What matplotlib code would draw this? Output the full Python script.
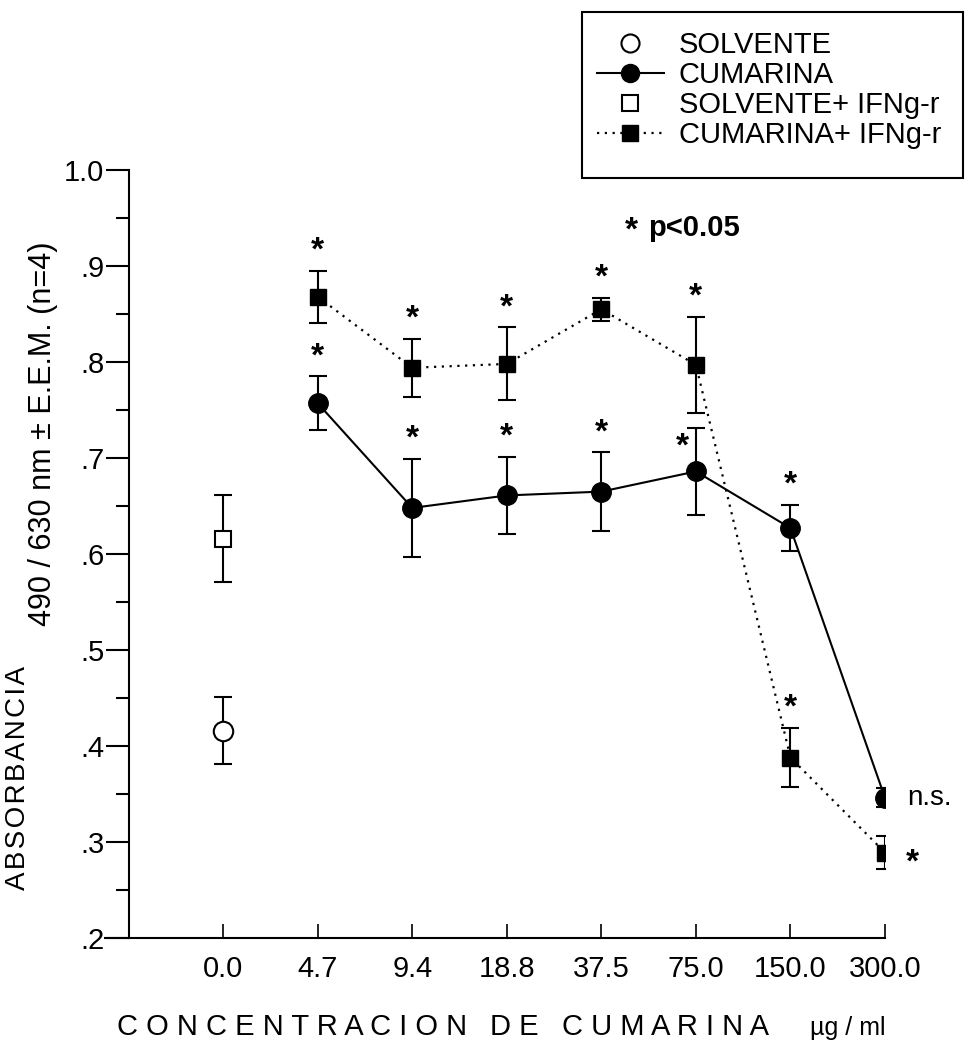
import matplotlib
matplotlib.use('Agg')
import matplotlib.pyplot as plt
from matplotlib.lines import Line2D
from matplotlib.patches import Rectangle
import numpy as np

plt.rcParams['font.family'] = ['Liberation Sans', 'DejaVu Sans']

# ---------------- data ----------------
concentrations = ['0.0', '4.7', '9.4', '18.8', '37.5', '75.0', '150.0', '300.0']

solvente_mean = [0.416]
solvente_err = [0.035]
solvente_ifn_mean = [0.616]
solvente_ifn_err = [0.045]

cumarina_mean = [0.757, 0.648, 0.661, 0.665, 0.686, 0.627, 0.346]
cumarina_err = [0.028, 0.051, 0.040, 0.041, 0.045, 0.024, 0.010]
cumarina_ifn_mean = [0.868, 0.794, 0.798, 0.855, 0.797, 0.388, 0.289]
cumarina_ifn_err = [0.027, 0.030, 0.038, 0.012, 0.050, 0.031, 0.017]

cumarina_sig = ['*', '*', '*', '*', '*', '*', 'n.s.']
cumarina_sig_pos = ['above', 'above', 'above', 'above', 'left', 'above', 'right']
cumarina_ifn_sig = ['*', '*', '*', '*', '*', '*', '*']
cumarina_ifn_sig_pos = ['above', 'above', 'above', 'above', 'above', 'above', 'right']

y_ticks = [0.2, 0.3, 0.4, 0.5, 0.6, 0.7, 0.8, 0.9, 1.0]
y_ticklabels = ['.2', '.3', '.4', '.5', '.6', '.7', '.8', '.9', '1.0']

legend_labels = ['SOLVENTE', 'CUMARINA', 'SOLVENTE+ IFNg-r', 'CUMARINA+ IFNg-r']

# ---------------- figure ----------------
W, H = 965, 1047
fig = plt.figure(figsize=(W / 100, H / 100), dpi=100)
ax = fig.add_axes([105 / W, (H - 938) / H, 780 / W, 768 / H])
ax.set_xlim(-1.25, 7.0)
ax.set_ylim(0.2, 1.0)

x_all = np.arange(len(concentrations))
x_solv = x_all[:1]
x_cum = x_all[1:]

err_kw = dict(ecolor='black', elinewidth=1.5, capsize=6.5, capthick=1.5)

ax.errorbar(x_solv, solvente_mean, yerr=solvente_err, fmt='o', ms=14,
            mfc='white', mec='black', mew=1.5, zorder=3, **err_kw)
ax.errorbar(x_solv, solvente_ifn_mean, yerr=solvente_ifn_err, fmt='s', ms=12,
            mfc='white', mec='black', mew=1.5, zorder=3, **err_kw)
ax.errorbar(x_cum, cumarina_mean, yerr=cumarina_err, fmt='-o', ms=14,
            color='black', lw=1.5, zorder=3, **err_kw)
ax.errorbar(x_cum, cumarina_ifn_mean, yerr=cumarina_ifn_err, fmt='s', ms=12,
            color='black', zorder=3, **err_kw)
ax.plot(x_cum, cumarina_ifn_mean, color='black', lw=1.6,
        linestyle=(0, (1, 2.5)), zorder=2)


def annotate_sig(xs, means, errs, sigs, poss):
    for xv, m, e, s, p in zip(xs, means, errs, sigs, poss):
        if s == 'n.s.':
            ax.annotate(s, xy=(xv, m), xytext=(16, 0), textcoords='offset points',
                        ha='left', va='center', fontsize=20)
            continue
        if p == 'above':
            ax.annotate(s, xy=(xv, m + e), xytext=(0, 8), textcoords='offset points',
                        ha='center', va='baseline', fontsize=24, fontweight='bold')
        elif p == 'left':
            ax.annotate(s, xy=(xv, m + e), xytext=(-10, -20), textcoords='offset points',
                        ha='center', va='baseline', fontsize=24, fontweight='bold')
        elif p == 'right':
            ax.annotate(s, xy=(xv, m), xytext=(19.5, -13.7), textcoords='offset points',
                        ha='center', va='baseline', fontsize=24, fontweight='bold')


annotate_sig(x_cum, cumarina_mean, cumarina_err, cumarina_sig, cumarina_sig_pos)
annotate_sig(x_cum, cumarina_ifn_mean, cumarina_ifn_err, cumarina_ifn_sig, cumarina_ifn_sig_pos)

# ---------------- axes styling ----------------
for s in ['top', 'right']:
    ax.spines[s].set_visible(False)
ax.spines['left'].set_position(('data', -1))
ax.spines['left'].set_bounds(0.2, 1.0)
ax.spines['left'].set_linewidth(1.5)
ax.spines['bottom'].set_linewidth(1.5)

ax.set_xticks(x_all)
ax.set_xticklabels(concentrations, fontsize=21)
ax.tick_params(axis='x', direction='in', length=10, width=1.2, pad=12)

ax.set_yticks(y_ticks)
ax.set_yticklabels(y_ticklabels, fontsize=21)
ax.set_yticks(np.array(y_ticks[:-1]) + 0.05, minor=True)
ax.tick_params(axis='y', which='major', direction='out', length=16.5, width=1.5, pad=1)
ax.tick_params(axis='y', which='minor', direction='out', length=9.4, width=1.5)

# axis labels (letter-spaced, mixed sizes)
hs = '\u200a'
fig.text(18 / W, 1 - 778 / H, hs.join('ABSORBANCIA'), rotation=90, fontsize=20,
         ha='center', va='center')
fig.text(43 / W, 1 - 434 / H, '490 / 630 nm \u00b1 E.E.M. (n=4)', rotation=90, fontsize=22,
         ha='center', va='center')

fig.text(117 / W, 1 - 1035 / H, 'C O N C E N T R A C I O N', fontsize=21, ha='left', va='baseline')
fig.text(490 / W, 1 - 1035 / H, 'D E', fontsize=21, ha='left', va='baseline')
fig.text(562 / W, 1 - 1035 / H, 'C U M A R I N A', fontsize=21, ha='left', va='baseline')
fig.text(810 / W, 1 - 1035 / H, '\u00b5g / ml', fontsize=18, ha='left', va='baseline')

# significance note
fig.text(631 / W, 1 - 240 / H, '*', fontsize=24, fontweight='bold', ha='center', va='baseline')
fig.text(648 / W, 1 - 236 / H, 'p<0.05', fontsize=21, fontweight='bold', ha='left', va='baseline')

# ---------------- legend ----------------
handles = [
    Line2D([], [], linestyle='none', marker='o', ms=13, mfc='white', mec='black', mew=1.5),
    Line2D([], [], color='black', lw=1.5, marker='o', ms=13),
    Line2D([], [], linestyle='none', marker='s', ms=11, mfc='white', mec='black', mew=1.5),
    Line2D([], [], color='black', lw=1.6, linestyle=(0, (1, 2.5)), marker='s', ms=11),
]
fig.legend(handles, legend_labels, loc='upper left', bbox_to_anchor=(597 / W, 1 - 31 / H),
           frameon=False, fontsize=21, handlelength=2.28, handletextpad=0.52,
           labelspacing=0.07, borderpad=0, borderaxespad=0)
fig.add_artist(Rectangle((582 / W, 1 - 178 / H), (963 - 582) / W, (178 - 12) / H,
                         transform=fig.transFigure, fill=False, lw=1.5, ec='black'))

fig.savefig('out.png', dpi=100)
